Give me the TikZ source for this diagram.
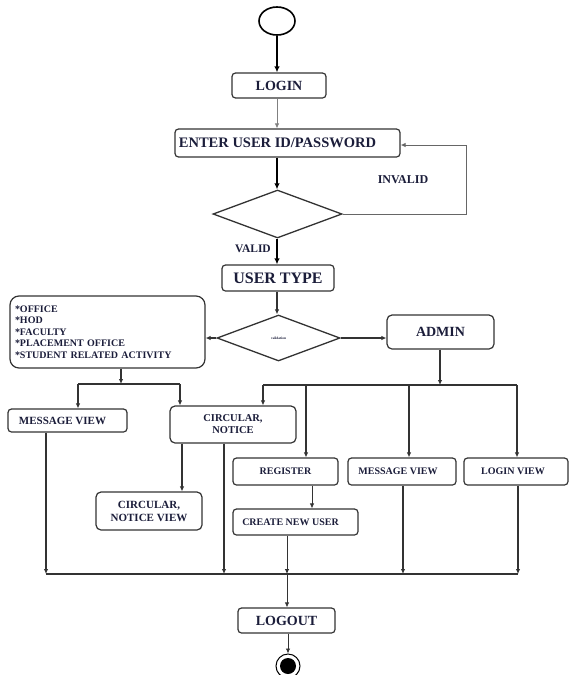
\documentclass[tikz,border=0pt]{standalone}
\usepackage{fontspec}
\setmainfont{Liberation Serif}
\usetikzlibrary{shapes.geometric,arrows.meta}
\definecolor{txtc}{HTML}{1B1D3A}
\definecolor{linec}{HTML}{333333}
\begin{document}
\begin{tikzpicture}[x=1pt,y=-1pt,
  box/.style={draw=linec,line width=1.2pt,rounded corners=3.5pt,inner sep=0pt,
    font=\bfseries\fontsize{10}{12}\selectfont,text=txtc,align=center},
  arr/.style={draw=linec,line width=1.1pt,-{Latex[length=5pt,width=4.5pt]}},
  tharr/.style={draw=black,line width=1.7pt,-{Latex[length=6pt,width=5.5pt]}},
  wire/.style={draw=linec,line width=1.1pt},
  dia/.style={diamond,draw=linec,line width=1.3pt,inner sep=0pt},
  lab/.style={font=\bfseries\fontsize{12}{14}\selectfont,text=txtc}
]
\useasboundingbox[fill=white] (0,0) rectangle (570,675);

% nodes
\node[ellipse,draw=black,line width=1.6pt,minimum width=36pt,minimum height=28pt,inner sep=0pt] (start) at (277,21) {};
\node[box,minimum width=94pt,minimum height=25pt,font=\bfseries\fontsize{14}{16}\selectfont] (login) at (279,85.5) {LOGIN};
\node[box,minimum width=225pt,minimum height=28pt,font=\bfseries\fontsize{14.5}{16}\selectfont] (enter) at (287.5,143) {ENTER USER ID/PASSWORD\hspace{20pt}};
\node[dia,minimum width=129pt,minimum height=48pt] (d1) at (277.5,214) {};
\node[box,minimum width=112pt,minimum height=26pt,font=\bfseries\fontsize{16}{18}\selectfont] (usertype) at (278,278) {USER TYPE};
\node[dia,minimum width=123pt,minimum height=46pt,font=\bfseries\fontsize{3.5}{4}\selectfont,text=txtc] (d2) at (278.5,338) {validation};
\node[box,text width=185pt,inner xsep=5pt,minimum height=72pt,align=left,rounded corners=9pt,
      font=\bfseries\fontsize{10}{11.5}\selectfont] (roles) at (107.5,332)
  {*OFFICE\\{}*HOD\\{}*FACULTY\\{}*PLACEMENT OFFICE\\{}*STUDENT RELATED ACTIVITY};
\node[box,minimum width=107pt,minimum height=34pt,rounded corners=5pt,font=\bfseries\fontsize{14}{16}\selectfont] (admin) at (440.5,332) {ADMIN};
\node[box,minimum width=119pt,minimum height=23pt,font=\bfseries\fontsize{11}{13}\selectfont] (mv1) at (67.5,420.5) {MESSAGE VIEW\hspace{10pt}};
\node[box,minimum width=126pt,minimum height=37pt,rounded corners=5pt,font=\bfseries\fontsize{10.5}{12}\selectfont] (cn) at (233,424.5) {CIRCULAR,\\NOTICE};
\node[box,minimum width=106pt,minimum height=38pt,rounded corners=5pt,font=\bfseries\fontsize{11}{13}\selectfont] (cnv) at (149,511) {CIRCULAR,\\NOTICE VIEW};
\node[box,minimum width=105pt,minimum height=27pt] (register) at (285.5,471.5) {REGISTER};
\node[box,minimum width=108pt,minimum height=27pt] (mv2) at (402,471.5) {MESSAGE VIEW\hspace{8pt}};
\node[box,minimum width=104pt,minimum height=27pt] (loginview) at (516,471.5) {LOGIN VIEW\hspace{6pt}};
\node[box,minimum width=125pt,minimum height=26pt] (cnu) at (295.5,522) {CREATE NEW USER\hspace{10pt}};
\node[box,minimum width=97pt,minimum height=25pt,font=\bfseries\fontsize{14}{16}\selectfont] (logout) at (286.5,620.5) {\raisebox{-3pt}{LOGOUT}};
\node[circle,draw=black,line width=1pt,minimum size=24pt,inner sep=0pt] (end) at (288,666) {};
\node[circle,fill=black,minimum size=16pt,inner sep=0pt] (endin) at (end) {};

\node[lab] (invalid) at (403,180) {INVALID};
\node[lab,font=\bfseries\fontsize{11.5}{13}\selectfont] (valid) at (253,249) {VALID};

% top chain
\draw[tharr] (start) -- (start |- login.north);
\draw[draw=gray,line width=0.8pt,-{Latex[length=5pt,width=4.5pt]}] (login.south -| start) -- (enter.north -| start);
\draw[tharr] (enter.south -| start) -- (d1.north -| start);
\coordinate (inv1) at (466,214);
\coordinate (inv2) at (466,145);
\draw[draw=gray!80!black,line width=1pt,-{Latex[length=5pt,width=4.5pt]}] (d1.east) -- (inv1) -- (inv2) -- (enter.east |- inv2);
\draw[tharr] (d1.south -| start) -- (usertype.north -| start);
\draw[arr,line width=1.3pt] (usertype.south -| start) -- (d2.north -| start);
\draw[arr,line width=1.3pt] (d2.west) -- (roles.east |- d2.west);
\draw[arr] (d2.east) -- (admin.west |- d2.east);

% left bus
\coordinate (rb) at (121,384);
\coordinate (lb1) at (78,384);
\coordinate (lb2) at (180,384);
\draw[arr] (roles.south -| rb) -- (rb);
\draw[wire] (lb1) -- (lb2);
\draw[arr] (lb1) -- (lb1 |- mv1.north);
\draw[arr] (lb2) -- (lb2 |- cn.north);

% admin bus
\coordinate (ab) at (440,385);
\coordinate (ab1) at (263,385);
\coordinate (ab2) at (306,385);
\coordinate (ab3) at (409,385);
\coordinate (ab4) at (517,385);
\draw[arr] (admin.south -| ab) -- (ab);
\draw[wire] (ab1) -- (ab4);
\draw[arr] (ab1) -- (ab1 |- cn.north);
\draw[arr] (ab2) -- (ab2 |- register.north);
\draw[arr] (ab3) -- (ab3 |- mv2.north);
\draw[arr] (ab4) -- (ab4 |- loginview.north);

% inner arrows
\coordinate (cx) at (182,0);
\draw[arr] (cn.south -| cx) -- (cnv.north -| cx);
\coordinate (rx) at (312,0);
\draw[arr,line width=0.8pt] (register.south -| rx) -- (cnu.north -| rx);

% bottom bus
\coordinate (bb1) at (46,574);
\coordinate (bb2) at (224,574);
\coordinate (bb3) at (287,574);
\coordinate (bb4) at (403,574);
\coordinate (bb5) at (518,574);
\draw[wire] (bb1) -- (bb5);
\draw[arr] (mv1.south -| bb1) -- (bb1);
\draw[arr] (cn.south -| bb2) -- (bb2);
\draw[arr,line width=0.8pt] (cnu.south -| bb3) -- (bb3);
\draw[arr] (mv2.south -| bb4) -- (bb4);
\draw[arr] (loginview.south -| bb5) -- (bb5);
\draw[arr,line width=0.8pt] (bb3) -- (logout.north -| bb3);
\draw[arr,line width=0.8pt] (logout.south -| end) -- (end.north);
\end{tikzpicture}
\end{document}
